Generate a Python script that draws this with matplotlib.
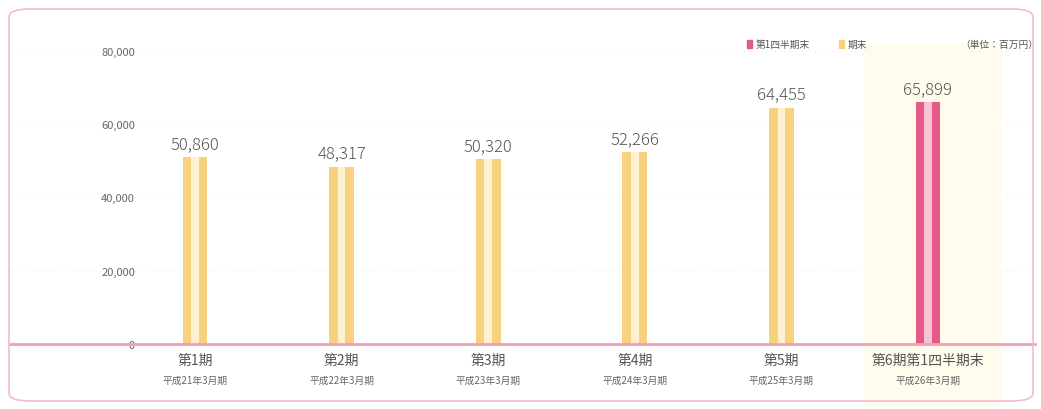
import matplotlib.pyplot as plt
from matplotlib.patches import FancyBboxPatch, Patch

plt.rcParams['font.family'] = ['Noto Sans CJK JP', 'DejaVu Sans']

# Data
periods = ['第1期', '第2期', '第3期', '第4期', '第5期', '第6期第1四半期末']
subs = ['平成21年3月期', '平成22年3月期', '平成23年3月期', '平成24年3月期', '平成25年3月期', '平成26年3月期']
values = [50860, 48317, 50320, 52266, 64455, 65899]
kinds = ['期末', '期末', '期末', '期末', '期末', '第1四半期末']
yticks = [0, 20000, 40000, 60000, 80000]
ytick_labels = ['0', '20,000', '40,000', '60,000', '80,000']

colors = {'期末': '#f7d27c', '第1四半期末': '#e45a8a'}
centers = {'期末': '#fdf1cf', '第1四半期末': '#f7c4d6'}

W, H = 1041, 410
fig = plt.figure(figsize=(W / 100, H / 100), dpi=100)
ax = fig.add_axes([10 / W, 1 - 345 / H, 1025 / W, 300 / H])

# rounded frame
frame = FancyBboxPatch((9 / W, 8 / H), 1024 / W, 392 / H,
                       boxstyle='round,pad=0,rounding_size=0.02',
                       transform=fig.transFigure, facecolor='none',
                       edgecolor='#f2bccb', linewidth=1.2)
fig.patches.append(frame)

x = list(range(len(values)))
ax.set_xlim(-1.262, 5.73)
ax.set_ylim(0, 81800)

# highlight for last period
ax.axvspan(4.57, 5.49, ymin=-0.2, ymax=1.0, color='#fffcee', zorder=0, clip_on=False)

for yv in yticks[1:]:
    ax.axhline(yv, color='#eeeeee', lw=0.8, ls=(0, (1, 3)), zorder=0.5)

bw = 0.17
for xi, v, k in zip(x, values, kinds):
    ax.bar(xi, v, width=bw, color=colors[k], zorder=2)
    ax.bar(xi, v, width=bw * 0.3, color=centers[k], zorder=3)
    ax.text(xi, v + 1500, f'{v:,}', ha='center', va='bottom', fontsize=12,
            color='#555555', fontweight='light')

ax.axhline(0, color='#f0a0bb', lw=2, zorder=4, clip_on=False)

ax.set_yticks(yticks)
ax.set_yticklabels(ytick_labels)
ax.tick_params(axis='y', length=0, pad=-90, labelsize=8, labelcolor='#666666')
ax.set_xticks(x)
ax.set_xticklabels([''] * len(x))
ax.tick_params(axis='x', length=0)
for xi, p, s in zip(x, periods, subs):
    ax.text(xi, -2500, p, ha='center', va='top', fontsize=10, color='#555555')
    ax.text(xi, -8500, s, ha='center', va='top', fontsize=7, color='#666666')

for sp in ax.spines.values():
    sp.set_visible(False)
ax.patch.set_visible(False)

handles = [Patch(color=colors['第1四半期末'], label='第1四半期末'),
           Patch(color=colors['期末'], label='期末')]
fig.legend(handles=handles, ncol=2, frameon=False, fontsize=7,
           loc='center left', bbox_to_anchor=(738 / W, 1 - 45 / H),
           handlelength=0.5, handleheight=0.9, handletextpad=0.4,
           columnspacing=3.0, labelcolor='#555555')
fig.text(960 / W, 1 - 45 / H, '（単位：百万円）', fontsize=7, color='#555555',
         ha='left', va='center')

fig.savefig('out.png', dpi=100, facecolor='white')
